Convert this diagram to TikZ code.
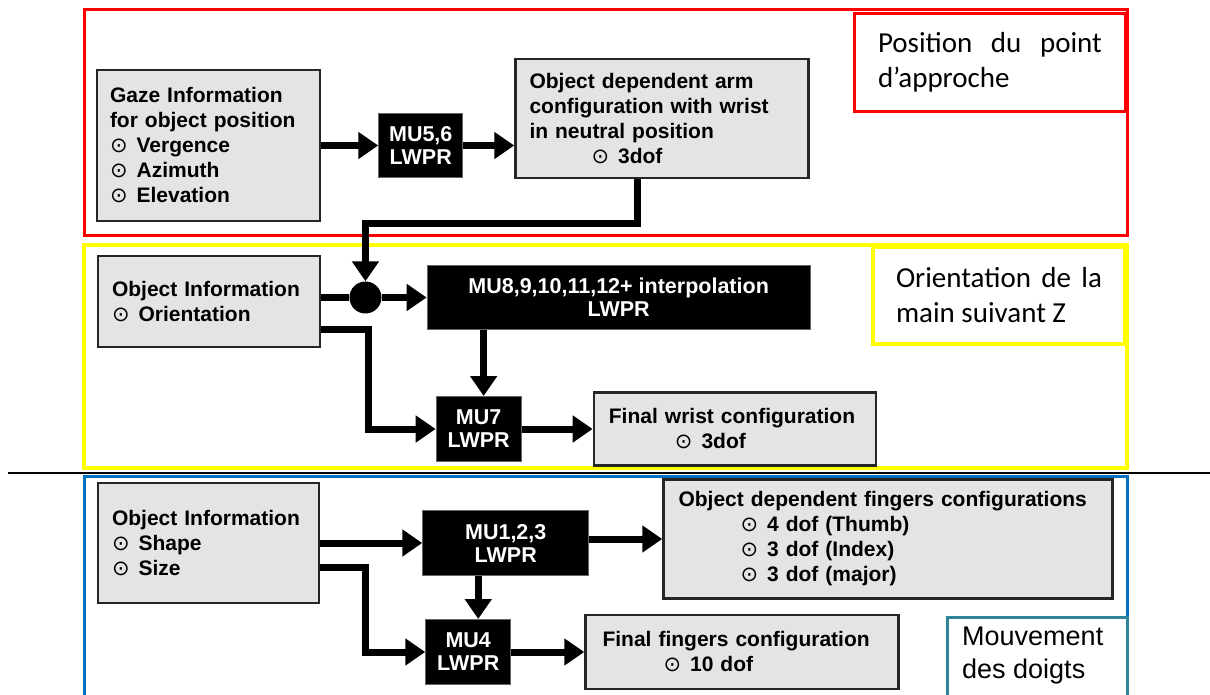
\documentclass[tikz,border=0pt]{standalone}
\usepackage{fontspec}
\setmainfont{Liberation Sans}
\newfontfamily\calfont{Carlito}
\newfontfamily\circfont{DejaVu Sans}
\usepackage{tikz}
\usetikzlibrary{positioning,arrows.meta,calc}

\definecolor{zred}{RGB}{255,0,0}
\definecolor{zyellow}{RGB}{255,255,0}
\definecolor{zblue}{RGB}{0,112,192}
\definecolor{zteal}{RGB}{49,133,155}
\definecolor{boxgrey}{RGB}{228,228,228}

\newcommand{\itm}{{\circfont\mdseries ⊙}\hspace{9pt}}

\begin{document}
\begin{tikzpicture}[x=1pt, y=-1pt,
    font=\fontsize{21}{25}\selectfont\bfseries,
    info/.style={draw=black!85, fill=boxgrey, line width=2.5pt, align=left, inner sep=0pt},
    mu/.style={draw=black!60, fill=black, text=white, line width=1pt, align=center,
        inner sep=0pt, font=\fontsize{21.5}{23}\selectfont\bfseries},
    junc/.style={circle, fill=black, minimum size=32pt, inner sep=0pt},
    ar/.style={line width=7pt, -{Triangle[length=20pt,width=26pt]}},
    ln/.style={line width=7pt},
    zone/.style={line width=3pt},
    lbl/.style={fill=white, line width=3pt, inner sep=0pt, align=justify,
        font=\calfont\mdseries\fontsize{29}{35}\selectfont},
]
    \useasboundingbox (0,0) rectangle (1210,695);
    \clip (0,0) rectangle (1210,695);

    % ---------- zones ----------
    \draw[zone, draw=zred] (84,10) rectangle (1127,236);
    \draw[zone, draw=zyellow, line width=4pt] (84,245) rectangle (1127,468);
    \draw[zone, draw=zblue] (84,476) rectangle (1127,720);
    \coordinate (sepl) at (8,473);
    \coordinate (sepr) at (1210,473);
    \draw[line width=1.5pt] (sepl) -- (sepr);

    % ---------- zone 1 : position du point d'approche ----------
    \node[info, minimum width=223pt, minimum height=151pt, text width=197pt] (gaze) at (208.5,145.5)
        {Gaze Information\\for object position\\\itm Vergence\\\itm Azimuth\\\itm Elevation};
    \node[mu, right=57pt of gaze, minimum width=84pt, minimum height=64pt] (mu56) {MU5,6\\LWPR};
    \node[info, right=51pt of mu56, yshift=27pt, minimum width=293pt, minimum height=119pt,
        text width=265pt] (arm)
        {Object dependent arm\\configuration with wrist\\in neutral position\\\hspace*{62pt}\itm 3dof};
    \draw[ar] (gaze.east |- mu56) -- (mu56.west);
    \draw[ar] (mu56) -- (arm.west |- mu56);

    % ---------- zone 2 : orientation de la main ----------
    \node[info, minimum width=222pt, minimum height=91pt, text width=194pt] (objori) at (209,301.5)
        {Object Information\\\itm Orientation};
    \node[junc, right=28pt of objori, yshift=4pt] (junc) {};
    \node[mu, right=45pt of junc, minimum width=383pt, minimum height=64pt] (mu8)
        {MU8,9,10,11,12+ interpolation\\LWPR};
    \node[mu, below right=66pt and 9pt of mu8.south west, minimum width=85pt, minimum height=65pt] (mu7)
        {MU7\\LWPR};
    \node[info, right=71pt of mu7, minimum width=282pt, minimum height=73pt, text width=252pt] (wrist)
        {Final wrist configuration\\\hspace*{66pt}\itm 3dof};
    \draw[ar] ([xshift=-25pt]arm.south) |- ([yshift=58pt]junc.north) -- (junc.north);
    \draw[ln] (objori.east |- junc) -- (junc);
    \draw[ar] (junc) -- (mu8.west |- junc);
    \draw[ar] ([yshift=-28pt]objori.east) -- ++(47,0) |- (mu7.west);
    \draw[ar] ([xshift=5pt]mu7.north |- mu8.south) -- ([xshift=5pt]mu7.north);
    \draw[ar] (mu7) -- (wrist.west |- mu7);

    % ---------- zone 3 : mouvement des doigts ----------
    \node[info, minimum width=221pt, minimum height=120pt, text width=193pt] (objshp) at (208.5,543)
        {Object Information\\\itm Shape\\\itm Size};
    \node[mu, right=102pt of objshp, minimum width=166pt, minimum height=65pt] (mu1) {MU1,2,3\\LWPR};
    \node[info, right=73pt of mu1, yshift=4pt, minimum width=449pt, minimum height=119pt,
        text width=419pt] (fingers)
        {Object dependent fingers configurations\\\hspace*{62pt}\itm 4 dof (Thumb)\\
         \hspace*{62pt}\itm 3 dof (Index)\\\hspace*{62pt}\itm 3 dof (major)};
    \node[mu, below right=43pt and 3pt of mu1.south west, minimum width=85pt, minimum height=65pt] (mu4)
        {MU4\\LWPR};
    \node[info, right=73pt of mu4, minimum width=313pt, minimum height=74pt, text width=279pt] (final)
        {Final fingers configuration\\\hspace*{61pt}\itm 10 dof};
    \draw[ar] (objshp.east |- mu1) -- (mu1.west);
    \draw[ar] ([yshift=-24pt]objshp.east) -- ++(45,0) |- (mu4.west);
    \draw[ar] ([xshift=10pt]mu4.north |- mu1.south) -- ([xshift=10pt]mu4.north);
    \draw[ar] (mu1.east |- fingers) -- (fingers.west);
    \draw[ar] (mu4) -- (final.west |- mu4);

    % ---------- etiquettes ----------
    \node[lbl, draw=zred, anchor=north east, minimum width=271pt, minimum height=98pt,
        text width=224pt] (lpos) at (1127,12) {Position du point d’approche};
    \node[lbl, draw=zyellow, line width=4pt, anchor=north east, minimum width=252pt,
        minimum height=97pt, text width=206pt] (lori) at (1127,245) {Orientation de la main suivant Z};
    \draw[zone, draw=zteal, fill=white] (947,617) rectangle (1127,720);
    \node[anchor=north west, align=left, inner sep=0pt, font=\fontsize{27}{33}\selectfont\mdseries] (ldoi)
        at (962,627) {Mouvement\\des doigts};
\end{tikzpicture}
\end{document}
